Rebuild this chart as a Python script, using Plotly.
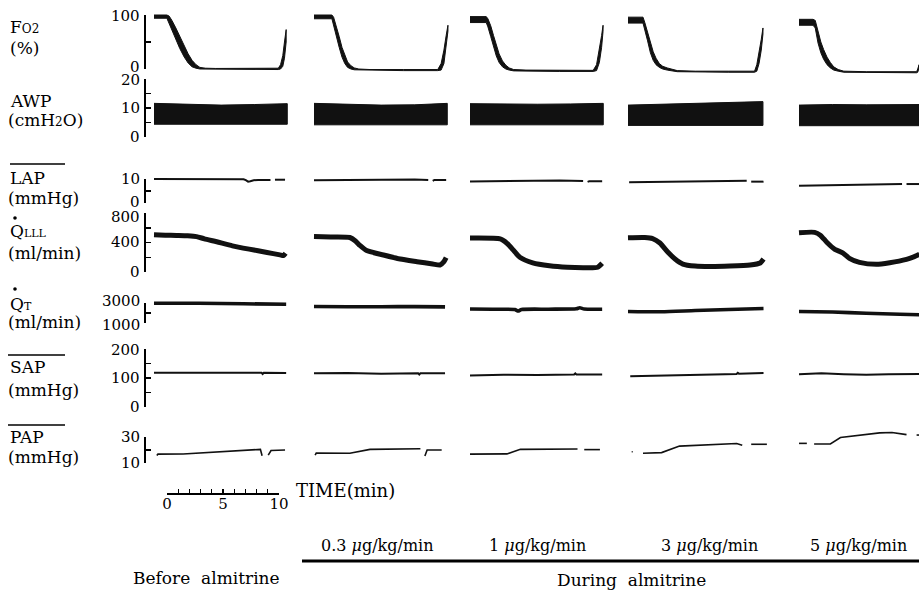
import plotly.graph_objects as go

W, H = 919, 592
FONT = "DejaVu Serif"

# ---------------- data (time in min from start of each recording panel) -------------
DOSE_LABELS = ["0.3 <i>μ</i>g/kg/min", "1 <i>μ</i>g/kg/min", "3 <i>μ</i>g/kg/min", "5 <i>μ</i>g/kg/min"]

# FO2 (%) envelope (upper / lower) of the breath-by-breath trace
FO2_T = [
    [0, 1.15, 1.35, 1.6, 1.95, 2.3, 2.7, 3.05, 3.4, 3.75, 4.1, 4.6, 5.5, 8.0, 11.1, 11.3, 11.5, 11.65, 11.8],
    [0, 1.6, 1.75, 2.0, 2.25, 2.5, 2.75, 3.0, 3.3, 3.6, 4.0, 5.0, 8.0, 11.05, 11.35, 11.6, 11.8, 11.96],
    [0, 1.45, 1.6, 1.85, 2.1, 2.35, 2.6, 2.9, 3.2, 3.5, 3.9, 5.0, 8.0, 11.0, 11.3, 11.55, 11.75, 11.88],
    [0, 1.34, 1.5, 1.75, 2.0, 2.25, 2.5, 2.8, 3.1, 3.5, 4.4, 6.0, 9.0, 11.3, 11.5, 11.7, 11.9, 12.05],
    [0, 1.25, 1.45, 1.7, 1.95, 2.2, 2.5, 2.8, 3.1, 3.5, 4.0, 6.0, 9.0, 10.5, 10.6, 10.72],
]
FO2_HI = [
    [100, 100, 98, 90, 76, 60, 43, 28, 16, 8, 3, 1.5, 1, 1, 1.5, 8, 25, 50, 73],
    [100, 100, 96, 80, 60, 40, 25, 13, 6, 2, 0, -1, -1, -1, 10, 35, 62, 81],
    [97, 97, 93, 80, 62, 44, 28, 15, 7, 2, -1, -2, -2.5, -2.5, 8, 35, 62, 81],
    [96, 96, 86, 68, 46, 32, 20, 10, 5, 2, -3, -4, -4, -4, 8, 30, 55, 76],
    [92, 92, 90, 68, 50, 36, 22, 12, 4, -1, -4, -5, -5, -5, 0, 8],
]
FO2_LO = [
    [94, 94, 86, 72, 55, 38, 22, 11, 4, 1.5, 0, -1, -1, -1, -1, 0, 5, 20, 50],
    [93, 93, 85, 62, 40, 22, 10, 3, 0, -1.5, -2, -2.5, -3, -3, -2, 10, 40, 70],
    [86, 86, 78, 60, 40, 24, 12, 4, 0, -2, -3.5, -4, -4.5, -4.5, -3, 12, 40, 70],
    [85, 85, 75, 52, 30, 16, 8, 3, 0, -2, -5, -6, -6, -6, -4, 10, 35, 65],
    [81, 81, 76, 48, 30, 18, 8, 2, -2, -4, -6, -7, -7, -7, -6, 2],
]

# AWP (cmH2O) envelope
AWP_T = [[0, 3, 6, 9, 11.9], [0, 3, 6, 9, 11.9], [0, 3, 6, 9, 11.9], [0, 3, 6, 9, 12.05], [0, 3, 6, 9, 10.75]]
AWP_HI = [[11.6, 11.2, 11.0, 11.2, 11.5], [11.6, 11.2, 11.0, 11.1, 11.6], [11.5, 11.3, 11.3, 11.4, 11.6],
          [11.0, 11.3, 11.6, 11.9, 12.2], [11.0, 11.2, 11.1, 11.2, 11.2]]
AWP_LO = [[4.4, 4.4, 4.4, 4.4, 4.4], [4.2, 4.2, 4.2, 4.2, 4.2], [4.2, 4.2, 4.2, 4.2, 4.2],
          [4.0, 4.0, 4.0, 4.0, 4.0], [3.9, 3.9, 3.9, 3.9, 3.9]]

# mean LAP (mmHg)
LAP_T = [
    [0, 4, 8, 8.2, 8.4, 8.6, 8.9, 9.3, 10.4, None, 10.8, 11.7],
    [0, 3, 6, 9, 10.2, None, 10.6, 10.75, 11.8],
    [0, 4, 8, 10.1, None, 10.5, 10.65, 11.8],
    [0.1, 4, 8, 10.6, None, 11.0, 12.1],
    [0, 4, 8, 9.2, None, 9.6, 10.75],
]
LAP_V = [
    [10.0, 10.0, 9.9, 9.5, 8.9, 9.1, 9.5, 9.6, 9.6, None, 9.7, 9.7],
    [9.5, 9.6, 9.8, 9.8, 9.6, None, 9.2, 9.6, 9.6],
    [9.0, 9.3, 9.4, 9.2, None, 8.8, 9.1, 9.1],
    [8.6, 8.9, 9.2, 9.3, None, 8.9, 8.9],
    [7.2, 7.5, 7.8, 7.9, None, 7.9, 7.9],
]

# Q LLL (ml/min)
QL_T = [
    [0, 1, 2, 3, 3.8, 4.5, 5.6, 7.0, 8.5, 10.1, 11.25, 11.55, 11.75],
    [0, 1.5, 3.2, 3.7, 4.1, 4.7, 6.2, 7.7, 9.2, 10.6, 11.25, 11.6, 11.8],
    [0, 2.7, 3.1, 3.5, 3.85, 4.45, 5.6, 7.1, 8.7, 10.1, 11.4, 11.8],
    [0, 1.5, 2.2, 2.85, 3.55, 4.2, 4.9, 6.0, 7.3, 9.1, 10.9, 11.8, 12.1],
    [0, 1.4, 1.9, 2.5, 3.2, 3.9, 4.5, 5.4, 6.9, 8.1, 9.6, 10.3, 10.75],
]
QL_V = [
    [505, 500, 495, 490, 480, 450, 410, 355, 310, 265, 232, 222, 255],
    [480, 475, 468, 420, 360, 290, 230, 176, 140, 108, 95, 140, 194],
    [460, 450, 415, 360, 300, 200, 125, 85, 64, 58, 64, 118],
    [465, 468, 454, 393, 271, 176, 108, 81, 75, 81, 95, 122, 176],
    [533, 538, 500, 400, 308, 260, 186, 131, 104, 126, 172, 208, 240],
]

# Q T (ml/min)
QT_T = [[0, 4, 8, 11.8], [0, 3, 6, 9, 11.7], [0, 2, 4.0, 4.3, 4.6, 7, 9.5, 9.8, 10.2, 11.8],
        [0, 3, 6, 9, 12.1], [0, 3, 6, 9, 10.75]]
QT_V = [[2980, 2970, 2920, 2870], [2650, 2620, 2630, 2640, 2610],
        [2400, 2380, 2350, 2200, 2350, 2380, 2420, 2520, 2400, 2380],
        [2150, 2120, 2250, 2350, 2450], [2150, 2100, 1980, 1880, 1830]]

# mean SAP (mmHg)
SAP_T = [[0, 3, 6, 9.6, 9.7, 9.8, 11.8], [0, 3, 6, 9.3, 9.4, 9.5, 11.7], [0, 3, 6, 9.3, 9.4, 9.5, 11.8],
         [0.2, 3, 6, 9.7, 9.8, 9.9, 12.1], [0, 2, 4, 6, 8, 10.75]]
SAP_V = [[118, 119, 118, 118, 114, 118, 117], [116, 117, 115, 116, 112, 116, 116],
         [109, 111, 110, 112, 116, 112, 112], [106, 108, 110, 114, 118, 115, 117],
         [113, 116, 113, 111, 113, 114]]

# mean PAP (mmHg)
PAP_T = [
    [0.25, 0.35, 2.6, 5.6, 8.5, 9.5, 9.65, None, 10.2, 10.45, 11.7],
    [0.1, 0.2, 3.2, 5.0, 9.5, None, 9.9, 10.1, 11.4],
    [0, 3.3, 3.8, 4.5, 9.6, None, 10.2, 11.6],
    [0.33, 0.42, None, 1.34, 3.0, 4.6, 6.4, 9.7, 10.2, None, 11.0, 12.4],
    [0, 0.7, None, 1.35, 2.0, 2.8, 3.7, 5.4, 7.2, 8.3, 9.6, None, 10.5, 10.75],
]
PAP_V = [
    [15.8, 16.8, 16.9, 18.7, 20.4, 20.5, 15.6, None, 16.0, 19.6, 20.0],
    [16.1, 17.6, 17.5, 20.5, 21.0, None, 15.4, 20.0, 20.0],
    [16.8, 17.0, 18.5, 20.5, 20.8, None, 20.3, 20.3],
    [18.7, 18.7, None, 17.5, 18.0, 23.0, 23.8, 25.0, 23.6, None, 24.4, 24.4],
    [25.1, 25.1, None, 24.6, 24.8, 24.6, 29.6, 31.5, 33.2, 33.5, 31.8, None, 31.5, 31.5],
]

# axis ticks (tick values; labelled values)
FO2_TICKS, FO2_LABELS = [0, 50, 100], [0, 100]
AWP_TICKS, AWP_LABELS = [0, 5, 10, 15, 20], [0, 10, 20]
LAP_TICKS, LAP_LABELS = [0, 5, 10], [0, 10]
QL_TICKS, QL_LABELS = [0, 200, 400, 600, 800], [0, 400, 800]
QT_TICKS, QT_LABELS = [1000, 2000, 3000], [1000, 3000]
SAP_TICKS, SAP_LABELS = [0, 50, 100, 150, 200], [0, 100, 200]
PAP_TICKS, PAP_LABELS = [10, 20, 30], [10, 30]
TIME_TICKS = list(range(11))
TIME_TICKTEXT = ["0", "", "", "", "", "5", "", "", "", "", "10"]

# ---------------- layout geometry (pixels) ----------------
PX_PER_MIN = 11.2
AX_LEFT = 144
PANEL_X0 = [(p - AX_LEFT) / PX_PER_MIN for p in (154, 314, 470, 628, 799)]

# (value_a, pixel_a, value_b, pixel_b, domain_top_px, domain_bottom_px, ticks, labels, label y-nudges)
ROWS = [
    (100, 15, 0, 69, 6, 77, FO2_TICKS, FO2_LABELS, [-2, 1]),
    (20, 79, 0, 137, 77, 142, AWP_TICKS, AWP_LABELS, [0, 0, 1]),
    (10, 179, 0, 203, 165, 207, LAP_TICKS, LAP_LABELS, [-1, 0]),
    (800, 213, 0, 272, 207, 279, QL_TICKS, QL_LABELS, [0, -1, 4]),
    (3000, 303, 1000, 323, 286, 328, QT_TICKS, QT_LABELS, [2, -2]),
    (200, 349, 0, 407, 338, 412, SAP_TICKS, SAP_LABELS, [0, 0, 1]),
    (30, 437, 10, 463, 420, 470, PAP_TICKS, PAP_LABELS, [0, 0]),
]
NR = len(ROWS)


def px(x):
    return x / W


def py(y):
    return 1 - y / H


def shift(ts, p):
    return [None if t is None else PANEL_X0[p] + t for t in ts]


fig = go.Figure()
INK = "#111111"


def band(T, HI, LO, yaxis):
    for p in range(len(T)):
        xs = shift(T[p], p)
        fig.add_trace(go.Scatter(
            x=xs + xs[::-1], y=HI[p] + LO[p][::-1], fill="toself", fillcolor=INK,
            mode="lines", line=dict(color=INK, width=1), xaxis="x", yaxis=yaxis,
            hoverinfo="skip", showlegend=False))


def trace(T, V, yaxis, width, shape="linear"):
    for p in range(len(T)):
        line = dict(color=INK, width=width, shape=shape)
        if shape == "spline":
            line["smoothing"] = 0.6
        fig.add_trace(go.Scatter(
            x=shift(T[p], p), y=V[p], mode="lines", line=line,
            xaxis="x", yaxis=yaxis, hoverinfo="skip", showlegend=False, connectgaps=False))


band(FO2_T, FO2_HI, FO2_LO, "y")
band(AWP_T, AWP_HI, AWP_LO, "y2")
trace(LAP_T, LAP_V, "y3", 2.0)
trace(QL_T, QL_V, "y4", 5.0, "spline")
trace(QT_T, QT_V, "y5", 3.6, "spline")
trace(SAP_T, SAP_V, "y6", 2.0)
trace(PAP_T, PAP_V, "y7", 1.6)

# invisible traces holding the bracket (scale) axes and the time-scale axis
for i in range(NR):
    fig.add_trace(go.Scatter(x=[None], y=[None], xaxis="x", yaxis="y%d" % (NR + 1 + i), mode="lines",
                             hoverinfo="skip", showlegend=False))
fig.add_trace(go.Scatter(x=[0, 10], y=[0.5, 0.5], xaxis="x2", yaxis="y%d" % (2 * NR + 1), mode="lines",
                         line=dict(width=0), hoverinfo="skip", showlegend=False))

layout = dict(
    width=W, height=H, autosize=False,
    margin=dict(l=0, r=0, t=0, b=0, pad=0, autoexpand=False),
    paper_bgcolor="white", plot_bgcolor="rgba(0,0,0,0)", showlegend=False,
    font=dict(family=FONT, size=15, color="black"),
    xaxis=dict(domain=[px(AX_LEFT + 1), 1], range=[1 / PX_PER_MIN, (W - AX_LEFT) / PX_PER_MIN],
               visible=False, fixedrange=True, automargin=False),
    xaxis2=dict(domain=[px(167), px(279)], range=[0, 10], anchor="y%d" % (2 * NR + 1), tickvals=TIME_TICKS,
                ticktext=TIME_TICKTEXT, ticks="inside", ticklen=4, tickwidth=1.3, tickcolor="black",
                showline=True, linewidth=1.5, linecolor="black", showgrid=False, zeroline=False,
                ticklabelstandoff=-4,
                tickfont=dict(family=FONT, size=15, color="black"), automargin=False, fixedrange=True),
)
layout["yaxis%d" % (2 * NR + 1)] = dict(domain=[py(493), py(480)], range=[0, 1], anchor="x2",
                                        visible=False, automargin=False)

ann = []


def text(s, x, y, size=17, anchor="left"):
    ann.append(dict(text=s, x=px(x), y=py(y), xref="paper", yref="paper", showarrow=False,
                    xanchor=anchor, yanchor="middle", font=dict(family=FONT, size=size, color="black")))


for i, (va, pa, vb, pb, dt, db, tv, lv, nudge) in enumerate(ROWS):
    slope = (va - vb) / (pa - pb)
    vtop = vb + (dt - pb) * slope
    vbot = vb + (db - pb) * slope
    key = "yaxis" if i == 0 else "yaxis%d" % (i + 1)
    # data axis (padded, invisible)
    layout[key] = dict(domain=[py(db), py(dt)], range=[vbot, vtop], anchor="x", visible=False,
                       fixedrange=True, automargin=False)
    # bracket axis spanning exactly the scale
    ptop = pb + (max(tv) - vb) / slope
    pbot = pb + (min(tv) - vb) / slope
    layout["yaxis%d" % (NR + 1 + i)] = dict(
        domain=[py(pbot), py(ptop)], range=[min(tv), max(tv)], anchor="free", position=px(AX_LEFT),
        tickvals=tv, ticks="inside", ticklen=5, tickwidth=1.5, tickcolor="black", showticklabels=False,
        showline=True, linewidth=1.8, linecolor="black", showgrid=False, zeroline=False,
        fixedrange=True, automargin=False)
    # tick labels
    for v, dn in zip(lv, nudge):
        text(str(v), 142, pb + (v - vb) / slope + dn, 15, "right")

shapes = []
# overlines over LAP / SAP / PAP and dots over Q
for (x0, x1, y) in [(10, 65, 164), (8, 65, 355), (8, 65, 425)]:
    shapes.append(dict(type="line", xref="paper", yref="paper", x0=px(x0), x1=px(x1),
                       y0=py(y), y1=py(y), line=dict(color="black", width=1.4)))
for (cx, cy) in [(15, 218), (15, 289)]:
    shapes.append(dict(type="circle", xref="paper", yref="paper", x0=px(cx - 1.8), x1=px(cx + 1.8),
                       y0=py(cy + 1.8), y1=py(cy - 1.8), fillcolor="black", line=dict(width=0)))
# "during almitrine" bar
shapes.append(dict(type="line", xref="paper", yref="paper", x0=px(302), x1=1, y0=py(561), y1=py(561),
                   line=dict(color="black", width=3.2)))
layout["shapes"] = shapes

text("F<span style='font-size:12px'>O2</span>", 8, 27)
text("(%)", 8, 48)
text("AWP", 8, 101)
text("(cmH<span style='font-size:12px'>2</span>O)", 6, 120)
text("LAP", 8, 178)
text("(mmHg)", 6, 198)
text("Q<span style='font-size:11px'>LLL</span>", 8, 231)
text("(ml/min)", 6, 253)
text("Q<span style='font-size:11px'>T</span>", 8, 304)
text("(ml/min)", 6, 322)
text("SAP", 8, 367)
text("(mmHg)", 6, 390)
text("PAP", 8, 437)
text("(mmHg)", 6, 457)

text("TIME(min)", 294, 490, 18)
for lbl, cx in zip(DOSE_LABELS, [377, 537, 709, 858]):
    text(lbl, cx, 545, 16, "center")
text("Before  almitrine", 206, 578, 17, "center")
text("During  almitrine", 631, 580, 17, "center")
layout["annotations"] = ann

fig.update_layout(**layout)
fig.write_html("out.html", post_script="document.body.style.margin='0';",
               config={"displayModeBar": False, "staticPlot": True})
